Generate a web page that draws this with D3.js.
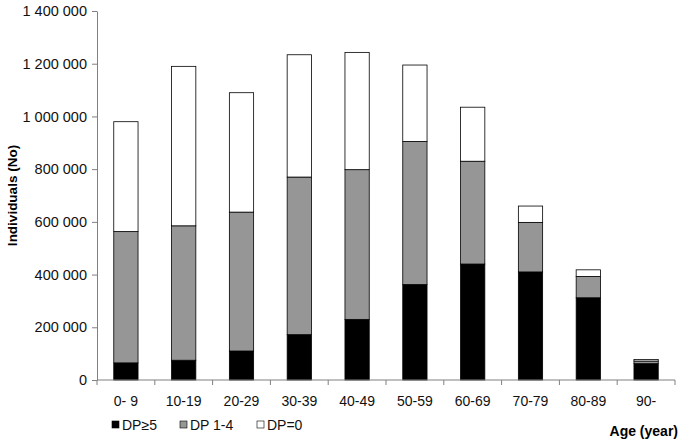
<!DOCTYPE html>
<html>
<head>
<meta charset="utf-8">
<script src="https://cdn.jsdelivr.net/npm/d3@7"></script>
<style>
  body { margin: 0; background: #fff; }
  text { font-family: "Liberation Sans", Arial, sans-serif; }
</style>
</head>
<body>
<script>
// data
var ages = ["0- 9", "10-19", "20-29", "30-39", "40-49", "50-59", "60-69", "70-79", "80-89", "90-"];
var dp5 = [65000, 75000, 110000, 172000, 230000, 362000, 440000, 410000, 312000, 62000];
var dp14 = [498000, 510000, 527000, 598000, 568000, 543000, 390000, 188000, 81000, 10000];
var dp0 = [417000, 605000, 453000, 464000, 445000, 290000, 205000, 62000, 25000, 6000];
var yTicks = [0, 200000, 400000, 600000, 800000, 1000000, 1200000, 1400000];

var keys = ["dp5", "dp14", "dp0"];
var names = {dp5: "DP\u22655", dp14: "DP 1-4", dp0: "DP=0"};
var colors = {dp5: "#000000", dp14: "#969696", dp0: "#ffffff"};

var table = ages.map(function(a, i) {
  return {age: a, dp5: dp5[i], dp14: dp14[i], dp0: dp0[i]};
});

var W = 685, H = 444;
var margin = {top: 11, right: 10, bottom: 64, left: 97},
    width = 675 - margin.left,
    height = 380 - margin.top;

var svg = d3.select("body").append("svg")
    .attr("width", W)
    .attr("height", H);

var g = svg.append("g")
    .attr("transform", "translate(" + margin.left + "," + margin.top + ")");

var x = d3.scaleBand().domain(ages).range([0, width]).paddingInner(0.58).paddingOuter(0.29);
var y = d3.scaleLinear().domain([0, 1400000]).range([height, 0]);

var stack = d3.stack().keys(keys)(table);

// bars
g.selectAll(".layer")
    .data(stack)
  .enter().append("g")
    .attr("fill", function(d) { return colors[d.key]; })
  .selectAll("rect")
    .data(function(d) { return d; })
  .enter().append("rect")
    .attr("x", function(d) { return x(d.data.age); })
    .attr("y", function(d) { return y(d[1]); })
    .attr("width", x.bandwidth())
    .attr("height", function(d) { return y(d[0]) - y(d[1]); })
    .attr("stroke", "#000")
    .attr("stroke-width", 0.8);

// y axis
var fmt = function(v) { return d3.format(",")(v).replace(/,/g, " "); };
var yAxis = g.append("g")
    .call(d3.axisLeft(y).tickValues(yTicks).tickFormat(fmt).tickSize(5).tickSizeOuter(0))
    .attr("font-family", null)
    .attr("font-size", 14.5);
yAxis.select(".domain").attr("stroke", "#808080");
yAxis.selectAll(".tick line").attr("stroke", "#808080");
yAxis.selectAll(".tick text")
    .attr("fill", "#111").attr("dx", "-2");

// x axis with ticks between categories
var xAxisG = g.append("g").attr("transform", "translate(0," + height + ")");
xAxisG.append("line").attr("x1", 0).attr("x2", width).attr("stroke", "#808080");
var step = x.step();
d3.range(ages.length + 1).forEach(function(i) {
  xAxisG.append("line")
      .attr("x1", i * step).attr("x2", i * step)
      .attr("y1", 0).attr("y2", 5)
      .attr("stroke", "#808080");
});
xAxisG.selectAll(".xlab")
    .data(ages)
  .enter().append("text")
    .attr("x", function(d) { return x(d) + x.bandwidth() / 2; })
    .attr("y", 26)
    .attr("text-anchor", "middle")
    .attr("font-size", 14)
    .attr("fill", "#111")
    .text(function(d) { return d; });

// axis titles
svg.append("text")
    .attr("transform", "translate(17," + (margin.top + height / 2) + ") rotate(-90)")
    .attr("text-anchor", "middle")
    .attr("font-size", 13.5)
    .attr("font-weight", "bold")
    .text("Individuals (No)");

svg.append("text")
    .attr("x", 678)
    .attr("y", 436)
    .attr("text-anchor", "end")
    .attr("font-size", 14)
    .attr("font-weight", "bold")
    .text("Age (year)");

// legend
var legendX = [112, 180, 257];
var legend = svg.selectAll(".leg")
    .data(keys)
  .enter().append("g")
    .attr("transform", function(d, i) { return "translate(" + legendX[i] + ",421)"; });
legend.append("rect")
    .attr("width", 7).attr("height", 7)
    .attr("fill", function(d) { return colors[d]; })
    .attr("stroke", "#000").attr("stroke-width", 0.6);
legend.append("text")
    .attr("x", 10).attr("y", 9)
    .attr("font-size", 14)
    .attr("fill", "#111")
    .text(function(d) { return names[d]; });
</script>
</body>
</html>
